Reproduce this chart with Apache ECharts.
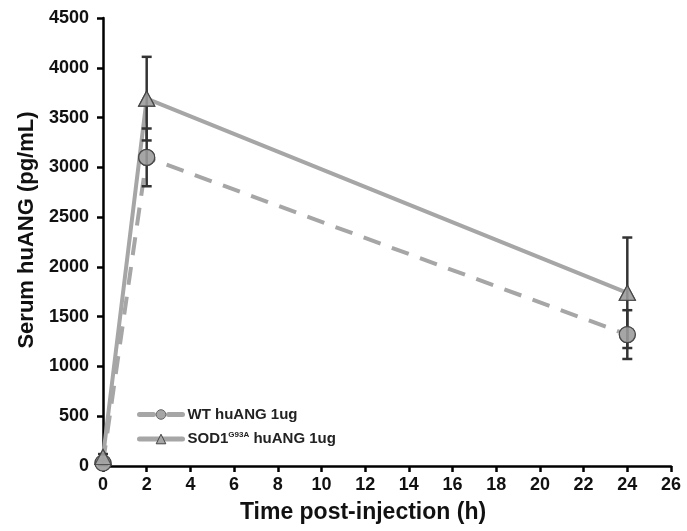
<!DOCTYPE html>
<html><head><meta charset="utf-8">
<script src="https://cdn.jsdelivr.net/npm/echarts@6/dist/echarts.min.js"></script>
<style>html,body{margin:0;padding:0;background:#fff}#c{width:687px;height:531px}</style>
</head><body><div id="c"></div>
<script>
const times = [0, 2, 24];
const wtMean = [30, 3100, 1320];
const wtErr = [20, 290, 245];
const sodMean = [90, 3690, 1740];
const sodErr = [30, 420, 555];
const xTicks = [0,2,4,6,8,10,12,14,16,18,20,22,24,26];

const chart = echarts.init(document.getElementById('c'));
const font = '"Liberation Sans", Arial, sans-serif';
function errData(mean, err){ return times.map((t,i)=>[t, mean[i]-err[i], mean[i]+err[i]]); }
function errSeries(name, mean, err){
  return {
    type:'custom', name: name+'err', z:3, silent:true,
    data: errData(mean, err),
    encode:{x:0,y:[1,2]},
    renderItem:function(params, api){
      const lo = api.coord([api.value(0), api.value(1)]);
      const hi = api.coord([api.value(0), api.value(2)]);
      const w = 5;
      const st = {stroke:'#333', lineWidth:2.5};
      return {type:'group', children:[
        {type:'line', shape:{x1:lo[0],y1:lo[1],x2:hi[0],y2:hi[1]}, style:st},
        {type:'line', shape:{x1:lo[0]-w,y1:lo[1],x2:lo[0]+w,y2:lo[1]}, style:st},
        {type:'line', shape:{x1:hi[0]-w,y1:hi[1],x2:hi[0]+w,y2:hi[1]}, style:st}
      ]};
    }
  };
}
chart.setOption({
  animation:false,
  grid:{left:103, right:16, top:18, bottom:65, containLabel:false},
  xAxis:{type:'value', min:0, max:26, interval:2,
    name:'Time post-injection (h)', nameLocation:'middle', nameGap:35,
    nameTextStyle:{fontFamily:font, fontWeight:'bold', fontSize:23, color:'#111', padding:[0,48,0,0]},
    axisLine:{onZero:false, lineStyle:{color:'#000', width:2.5}},
    axisTick:{show:true, length:6, lineStyle:{color:'#000', width:2.5}},
    axisLabel:{fontFamily:font, fontWeight:'bold', fontSize:18, color:'#111', margin:10},
    splitLine:{show:false}},
  yAxis:{type:'value', min:0, max:4500, interval:500,
    name:'Serum huANG (pg/mL)', nameLocation:'middle', nameGap:65,
    nameTextStyle:{fontFamily:font, fontWeight:'bold', fontSize:22, color:'#111', padding:[0,0,0,24]},
    axisLine:{show:true, lineStyle:{color:'#000', width:2.5}},
    axisTick:{show:true, length:6, lineStyle:{color:'#000', width:2.5}},
    axisLabel:{fontFamily:font, fontWeight:'bold', fontSize:18, color:'#111', margin:14,
      formatter:function(v){ return String(v); }},
    splitLine:{show:false}},
  legend:{left:137, top:407, padding:0, orient:'vertical', itemGap:9, itemWidth:43, itemHeight:12,
    textStyle:{fontFamily:font, fontWeight:'bold', fontSize:15, color:'#222',
      rich:{sup:{fontFamily:font, fontWeight:'bold', fontSize:8, color:'#222', verticalAlign:'top', padding:[0,0,8,0]}}},
    formatter:function(n){ return n==='SOD1' ? 'SOD1{sup|G93A} huANG 1ug' : n; },
    data:[
      {name:'WT huANG 1ug', lineStyle:{width:5, color:'#a6a6a6', type:[14,15], cap:'round'},
        itemStyle:{color:'#a6a6a6', borderColor:'#666', borderWidth:1}},
      {name:'SOD1', lineStyle:{width:5, color:'#a6a6a6', type:'solid', cap:'round'},
        itemStyle:{color:'#a6a6a6', borderColor:'#444', borderWidth:1}}
    ]},
  series:[
    {name:'WT huANG 1ug', type:'line', z:2, data:times.map((t,i)=>[t, wtMean[i]]),
      lineStyle:{color:'#a6a6a6', width:4, type:[18,12]},
      itemStyle:{color:'#a6a6a6', borderColor:'#404040', borderWidth:1.2},
      symbol:'circle', symbolSize:16},
    {name:'SOD1', type:'line', z:2, data:times.map((t,i)=>[t, sodMean[i]]),
      lineStyle:{color:'#a6a6a6', width:4},
      itemStyle:{color:'#a6a6a6', borderColor:'#404040', borderWidth:1.2},
      symbol:'triangle', symbolSize:[16,15]},
    errSeries('WT', wtMean, wtErr),
    errSeries('SOD', sodMean, sodErr),
    {name:'WTpts', type:'scatter', z:4, silent:true, data:times.map((t,i)=>[t, wtMean[i]]),
      symbol:'circle', symbolSize:16, itemStyle:{color:'#a6a6a6', borderColor:'#404040', borderWidth:1.2}},
    {name:'SODpts', type:'scatter', z:4, silent:true, data:times.map((t,i)=>[t, sodMean[i]]),
      symbol:'triangle', symbolSize:[16,15], itemStyle:{color:'#a6a6a6', borderColor:'#404040', borderWidth:1.2}}
  ]
});
</script></body></html>
